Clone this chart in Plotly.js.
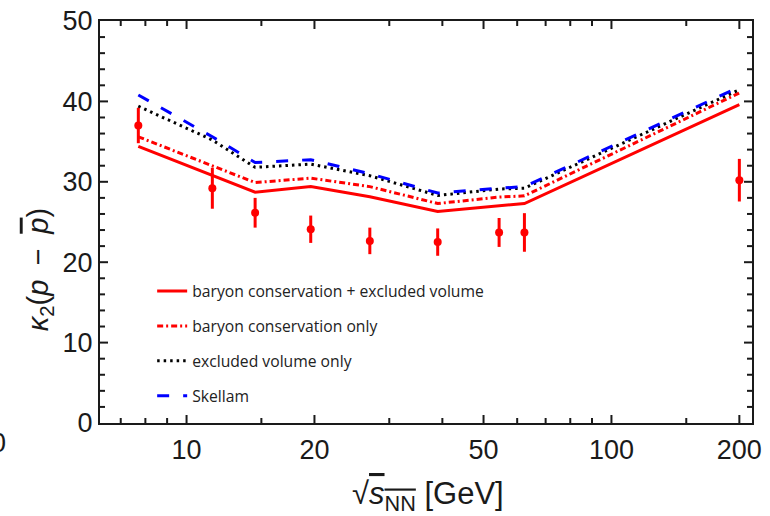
<!DOCTYPE html>
<html>
<head>
<meta charset="utf-8">
<script src="https://cdn.plot.ly/plotly-3.0.1.min.js"></script>
<style>html,body{margin:0;padding:0;background:#fff;}</style>
</head>
<body>
<div id="chart" style="width:770px;height:516px;"></div>
<script>
// collision energies sqrt(s_NN) [GeV]
const energies = [7.7, 11.5, 14.5, 19.6, 27, 39, 54.4, 62.4, 200];
// STAR data kappa2(p - pbar) with errors
const expData = [37.0, 29.2, 26.15, 24.1, 22.65, 22.5, 23.7, 23.7, 30.2];
const expErr  = [2.2, 2.55, 1.85, 1.7, 1.65, 1.7, 1.8, 2.4, 2.65];
// model curves
const bcEv    = [34.4, 30.8, 28.7, 29.4, 28.15, 26.3, 27.0, 27.3, 39.6];
const bcOnly  = [35.6, 32.0, 29.9, 30.45, 29.4, 27.3, 28.1, 28.25, 41.05];
const evOnly  = [39.4, 35.2, 31.8, 32.2, 30.75, 28.3, 29.1, 29.2, 41.45];
const skellam = [40.8, 35.6, 32.4, 32.75, 31.0, 28.6, 29.2, 29.4, 41.8];

const seriesNames = ["baryon conservation + excluded volume", "baryon conservation only", "excluded volume only", "Skellam"];
const xTickVals = [10, 20, 50, 100, 200];
const xTickText = ["10", "20", "50", "100", "200"];
const xMinorVals = [7, 8, 9, 15, 30, 40, 60, 70, 80, 90, 150];
const yTickVals = [0, 10, 20, 30, 40, 50];
const yMinorVals = [2,4,6,8,12,14,16,18,22,24,26,28,32,34,36,38,42,44,46,48];

const xRange = [0.7963, 2.3308];
const yRange = [0, 50];

const traces = [
  {x: energies, y: bcEv, name: seriesNames[0], mode: 'lines', legendgroup: 'a',
   line: {color: '#ff0000', width: 3}},
  {x: energies, y: bcOnly, name: seriesNames[1], mode: 'lines', legendgroup: 'b',
   line: {color: '#ff0000', width: 3, dash: '6px,3px,2px,3px'}},
  {x: energies, y: evOnly, name: seriesNames[2], mode: 'lines', legendgroup: 'c',
   line: {color: '#000000', width: 3, dash: '2.5px,4px'}},
  {x: energies, y: skellam, name: seriesNames[3], mode: 'lines', legendgroup: 'd',
   line: {color: '#0000ff', width: 3, dash: '12px,14px'}},
  {x: energies, y: expData, mode: 'markers', showlegend: false, name: 'data',
   marker: {color: '#ff0000', size: 8},
   error_y: {type: 'data', array: expErr, visible: true, color: '#ff0000', thickness: 3, width: 0}}
];

const INK = '#1a1a1a';
const tickFont = {family: 'Liberation Sans, Arial, sans-serif', size: 27, color: INK};

// tick marks (inside, mirrored) drawn as pixel-length shapes at the axis tick values
const shapes = [];
function xPaper(v) { return (Math.log10(v) - xRange[0]) / (xRange[1] - xRange[0]); }
function addXTicks(vals, len) {
  vals.forEach(v => {
    const px = xPaper(v);
    shapes.push({type: 'line', xref: 'paper', yref: 'paper', ysizemode: 'pixel', yanchor: 0,
      x0: px, x1: px, y0: 0, y1: len, line: {color: INK, width: 2}});
    shapes.push({type: 'line', xref: 'paper', yref: 'paper', ysizemode: 'pixel', yanchor: 1,
      x0: px, x1: px, y0: 0, y1: -len, line: {color: INK, width: 2}});
  });
}
function addYTicks(vals, len) {
  vals.forEach(v => {
    shapes.push({type: 'line', xref: 'paper', yref: 'y', xsizemode: 'pixel', xanchor: 0,
      x0: 0, x1: len, y0: v, y1: v, line: {color: INK, width: 2}});
    shapes.push({type: 'line', xref: 'paper', yref: 'y', xsizemode: 'pixel', xanchor: 1,
      x0: 0, x1: -len, y0: v, y1: v, line: {color: INK, width: 2}});
  });
}
addXTicks(xTickVals, 8);
addXTicks(xMinorVals, 5);
addYTicks(yTickVals.slice(1, -1), 8);
addYTicks(yMinorVals, 5);

const layout = {
  width: 770, height: 516,
  margin: {l: 100, r: 18, t: 21, b: 93},
  paper_bgcolor: '#ffffff', plot_bgcolor: '#ffffff',
  showlegend: true,
  xaxis: {
    type: 'log', range: xRange, autorange: false,
    showline: true, linecolor: INK, linewidth: 2, mirror: true,
    ticks: '', showgrid: false, zeroline: false, tickfont: tickFont,
    tickmode: 'array', tickvals: xTickVals, ticktext: xTickText, ticklabelstandoff: 2
  },
  yaxis: {
    range: yRange, autorange: false, tickmode: 'array', tickvals: yTickVals,
    showline: true, linecolor: INK, linewidth: 2, mirror: true,
    ticks: '', showgrid: false, zeroline: false, tickfont: tickFont
  },
  legend: {
    x: 0.08, y: 0.37, xanchor: 'left', yanchor: 'top',
    bgcolor: 'rgba(0,0,0,0)', borderwidth: 0,
    font: {family: 'Open Sans, sans-serif', size: 15.7, color: '#222'},
    tracegroupgap: 11.5, traceorder: 'grouped'
  },
  shapes: shapes,
  annotations: [
    {xref: 'paper', yref: 'paper', x: -0.092, y: 0.38, textangle: -90, showarrow: false,
     xanchor: 'center', yanchor: 'middle',
     text: '<i>κ</i><sub>2</sub>(<i>p</i>\u2002−\u2002<i><span style="text-decoration:overline">p</span></i>)',
     font: {family: 'Liberation Sans, Arial, sans-serif', size: 29, color: INK}},
    {xref: 'paper', yref: 'paper', x: 0.503, y: -0.182, showarrow: false,
     xanchor: 'center', yanchor: 'middle',
     text: '√<span style="text-decoration:overline"><i>s</i><sub>NN</sub></span> [GeV]',
     font: {family: 'Liberation Sans, Arial, sans-serif', size: 31, color: INK}},
    {xref: 'paper', yref: 'paper', x: -0.141, y: -0.05, showarrow: false,
     xanchor: 'right', yanchor: 'middle', text: '0',
     font: {family: 'Liberation Sans, Arial, sans-serif', size: 27, color: INK}}
  ]
};

Plotly.newPlot('chart', traces, layout, {displayModeBar: false, staticPlot: true});
</script>
</body>
</html>
